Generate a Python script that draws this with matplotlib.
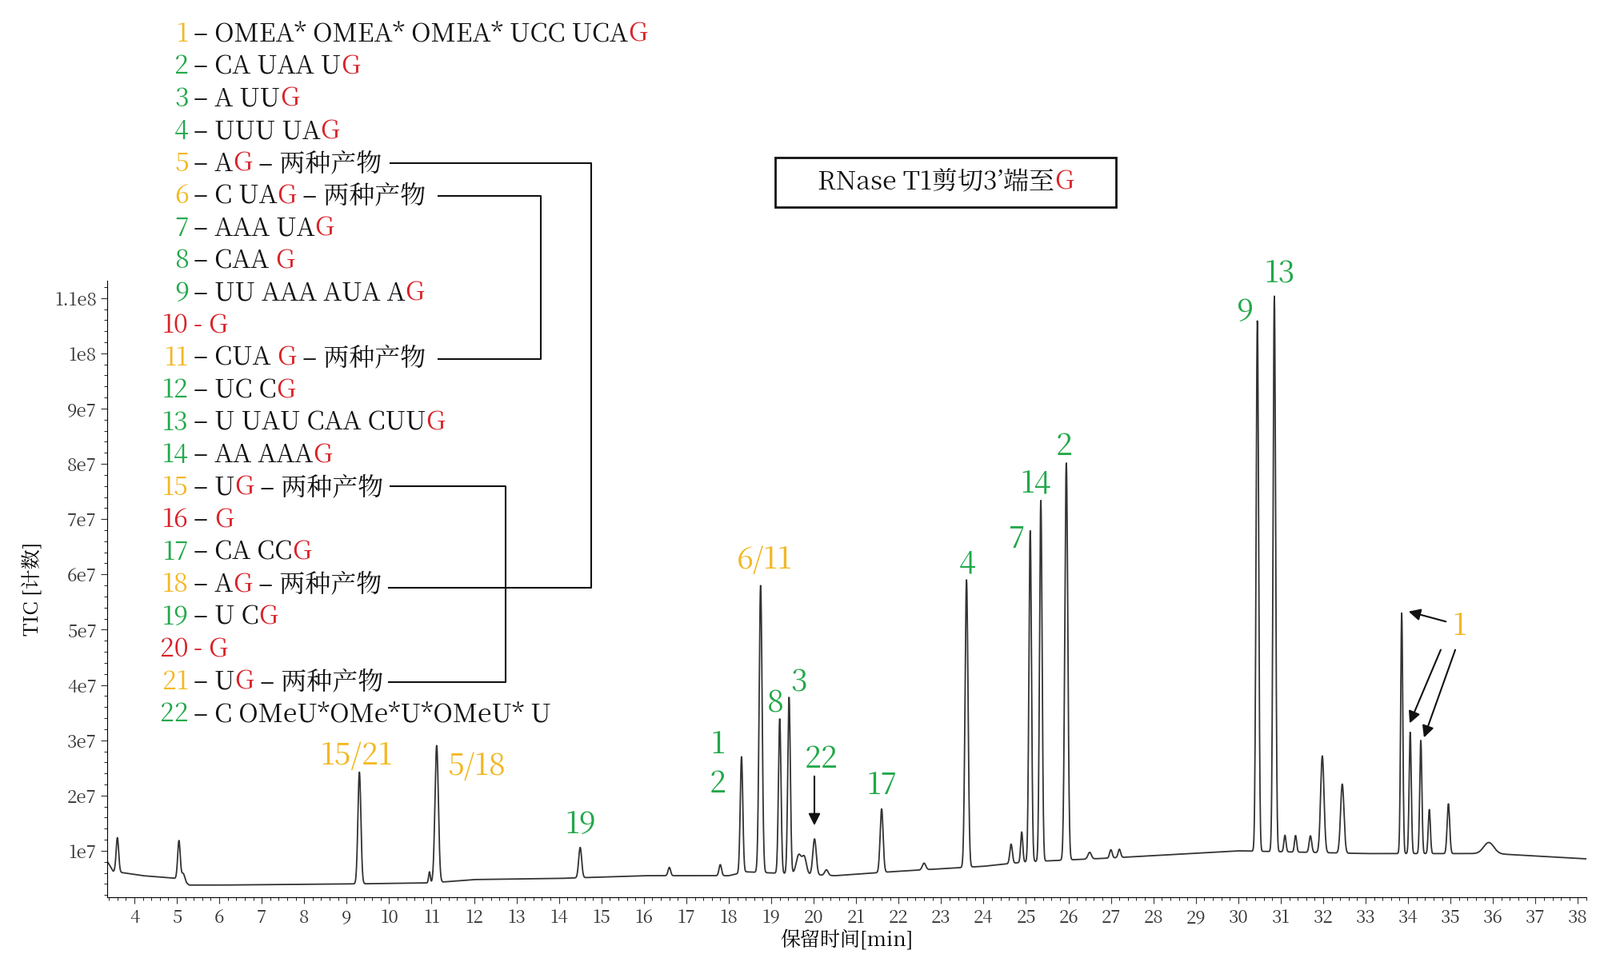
import numpy as np
import matplotlib
matplotlib.use("Agg")
import matplotlib.pyplot as plt
from matplotlib import font_manager as fm
from matplotlib.lines import Line2D
from matplotlib.patches import Rectangle, FancyArrowPatch
from matplotlib.ticker import AutoMinorLocator

cjk = None
for f in fm.fontManager.ttflist:
    if "CJK" in f.name and "SC" in f.name:
        cjk = f.name; break
if cjk is None:
    for f in fm.fontManager.ttflist:
        if "CJK" in f.name:
            cjk = f.name; break
plt.rcParams['font.family'] = [cjk] if cjk else ['DejaVu Sans']

# ---- data (times in min, intensities in counts) ----
base_t = [3.37, 3.5, 4.2, 5.0, 5.3, 6.0, 9.0, 11.0, 12.0, 14.0, 16.0, 18.0, 18.4, 19.0, 20.5, 22.0, 24.0, 25.0, 27.0, 30.0, 33.0, 36.0, 38.3]
base_v = [0.80e7, 0.63e7, 0.55e7, 0.50e7, 0.38e7, 0.38e7, 0.40e7, 0.42e7, 0.48e7, 0.50e7, 0.55e7, 0.55e7, 0.62e7, 0.60e7, 0.55e7, 0.63e7, 0.72e7, 0.80e7, 0.87e7, 1.0e7, 0.95e7, 0.95e7, 0.85e7]
peak_t = [3.6, 5.05, 5.15, 9.3, 10.95, 11.12, 14.5, 16.6, 17.8, 18.3, 18.75, 19.2, 19.42, 19.65, 19.78, 20.02, 20.3, 21.6, 22.6, 23.6, 24.65, 24.9, 25.1, 25.35, 25.95, 26.5, 27.0, 27.2, 30.45, 30.85, 31.1, 31.35, 31.7, 31.98, 32.45, 33.85, 34.05, 34.3, 34.5, 34.95, 35.9]
peak_h = [0.62e7, 0.7e7, 0.15e7, 2.02e7, 0.2e7, 2.48e7, 0.55e7, 0.15e7, 0.2e7, 2.1e7, 5.2e7, 2.8e7, 3.2e7, 0.35e7, 0.3e7, 0.65e7, 0.1e7, 1.15e7, 0.12e7, 5.2e7, 0.35e7, 0.55e7, 6.0e7, 6.55e7, 7.2e7, 0.12e7, 0.15e7, 0.15e7, 9.6e7, 10.05e7, 0.3e7, 0.3e7, 0.3e7, 1.75e7, 1.25e7, 4.35e7, 2.2e7, 2.05e7, 0.8e7, 0.9e7, 0.2e7]
peak_w = [0.03, 0.03, 0.04, 0.035, 0.02, 0.04, 0.035, 0.03, 0.03, 0.03, 0.035, 0.03, 0.03, 0.06, 0.05, 0.04, 0.04, 0.035, 0.04, 0.035, 0.03, 0.025, 0.03, 0.03, 0.035, 0.04, 0.03, 0.03, 0.03, 0.03, 0.025, 0.025, 0.03, 0.04, 0.04, 0.025, 0.025, 0.025, 0.025, 0.03, 0.12]

legend_rows = [
    ("1", "y", [("– OMEA* OMEA* OMEA* UCC UCA", "k"), ("G", "r")]),
    ("2", "g", [("– CA UAA U", "k"), ("G", "r")]),
    ("3", "g", [("– A UU", "k"), ("G", "r")]),
    ("4", "g", [("– UUU UA", "k"), ("G", "r")]),
    ("5", "y", [("– A", "k"), ("G", "r"), (" – 两种产物", "k")]),
    ("6", "y", [("– C UA", "k"), ("G", "r"), (" – 两种产物", "k")]),
    ("7", "g", [("– AAA UA", "k"), ("G", "r")]),
    ("8", "g", [("– CAA ", "k"), ("G", "r")]),
    ("9", "g", [("– UU AAA AUA A", "k"), ("G", "r")]),
    ("10", "r", [("- G", "r")]),
    ("11", "y", [("– CUA ", "k"), ("G", "r"), (" – 两种产物", "k")]),
    ("12", "g", [("– UC C", "k"), ("G", "r")]),
    ("13", "g", [("– U UAU CAA CUU", "k"), ("G", "r")]),
    ("14", "g", [("– AA AAA", "k"), ("G", "r")]),
    ("15", "y", [("– U", "k"), ("G", "r"), (" – 两种产物", "k")]),
    ("16", "r", [("– ", "k"), ("G", "r")]),
    ("17", "g", [("– CA CC", "k"), ("G", "r")]),
    ("18", "y", [("– A", "k"), ("G", "r"), (" – 两种产物", "k")]),
    ("19", "g", [("– U C", "k"), ("G", "r")]),
    ("20", "r", [("- G", "r")]),
    ("21", "y", [("– U", "k"), ("G", "r"), (" – 两种产物", "k")]),
    ("22", "g", [("– C OMeU*OMe*U*OMeU* U", "k")]),
]

peak_labels = [("15/21", "y", 446, 946), ("5/18", "y", 596, 959), ("19", "g", 726, 1032),
               ("1", "g", 897, 932), ("2", "g", 897, 981), ("6/11", "y", 956, 701),
               ("8", "g", 969, 880), ("3", "g", 999, 854), ("22", "g", 1027, 950),
               ("17", "g", 1103, 983), ("4", "g", 1209, 705), ("7", "g", 1271, 675),
               ("14", "g", 1295, 606), ("2", "g", 1330, 559), ("9", "g", 1557, 391),
               ("13", "g", 1600, 343), ("1", "y", 1824, 784)]

COL = {"g": "#22a84a", "y": "#f2b824", "r": "#d8232a", "k": "#111111"}
W, H = 2000, 1213

t = np.linspace(3.36, 38.3, 6000)
sig = np.interp(t, base_t, base_v)
for pt, ph, pw in zip(peak_t, peak_h, peak_w):
    sig = sig + ph * np.exp(-0.5 * ((t - pt) / pw) ** 2)

fig = plt.figure(figsize=(20, 12.13), dpi=100)
ax = fig.add_axes([0.067, 0.075, 0.9245, 0.636])
ax.plot(t, sig, color="#333333", lw=1.3)
ax.set_xlim(3.36, 38.2)
ax.set_ylim(0.16e7, 11.32e7)
ax.set_xticks(range(4, 39))
ax.set_yticks([i * 1e7 for i in range(1, 12)])
ax.set_yticklabels(["1e7", "2e7", "3e7", "4e7", "5e7", "6e7", "7e7", "8e7", "9e7", "1e8", "1.1e8"])
ax.xaxis.set_minor_locator(AutoMinorLocator(5))
ax.yaxis.set_minor_locator(AutoMinorLocator(5))
ax.tick_params(labelsize=16, colors="#333333", length=6)
ax.tick_params(which="minor", length=3)
for s in ("top", "right"):
    ax.spines[s].set_visible(False)
ax.set_xlabel("保留时间[min]", fontsize=18, labelpad=2)
ax.set_ylabel("TIC [计数]", fontsize=18, labelpad=10)

def fx(x): return x / W
def fy(y): return 1 - y / H

fig.canvas.draw()
renderer = fig.canvas.get_renderer()

def seg_text(x, y, segs, size):
    cur = x
    for s, c in segs:
        tx = fig.text(fx(cur), fy(y), s, color=COL[c], fontsize=size, va="center", ha="left")
        cur += tx.get_window_extent(renderer).width
    return cur

y0, dy = 43, 40.5
for i, (num, nc, segs) in enumerate(legend_rows):
    y = y0 + i * dy
    fig.text(fx(236), fy(y), num, color=COL[nc], fontsize=23, va="center", ha="right")
    seg_text(242, y, segs, 23)

def pline(pts):
    xs = [fx(p[0]) for p in pts]; ys = [fy(p[1]) for p in pts]
    fig.add_artist(Line2D(xs, ys, color="#111111", lw=1.5))
pline([(488, 204), (739, 204), (739, 735), (486, 735)])
pline([(548, 245), (676, 245), (676, 449), (548, 449)])
pline([(488, 608), (632, 608), (632, 853), (486, 853)])

fig.add_artist(Rectangle((fx(969), fy(259)), fx(1395 - 969), (259 - 197) / H,
                         fill=False, ec="#111111", lw=2))
tmp = fig.text(0, 0, "RNase T1剪切3’端至G", fontsize=23)
wbox = tmp.get_window_extent(renderer).width
tmp.remove()
seg_text(1182 - wbox / 2, 228, [("RNase T1剪切3’端至", "k"), ("G", "r")], 23)

for s, c, x, y in peak_labels:
    fig.text(fx(x), fy(y), s, color=COL[c], fontsize=27, ha="center", va="center")

def arrow(x1, y1, x2, y2):
    fig.add_artist(FancyArrowPatch((fx(x1), fy(y1)), (fx(x2), fy(y2)),
                   transform=fig.transFigure, arrowstyle="-|>", mutation_scale=22,
                   color="#111111", lw=1.5))
arrow(1018, 968, 1018, 1035)
arrow(1810, 778, 1758, 764)
arrow(1802, 810, 1761, 907)
arrow(1820, 810, 1779, 925)

fig.savefig("out.png", dpi=100)
